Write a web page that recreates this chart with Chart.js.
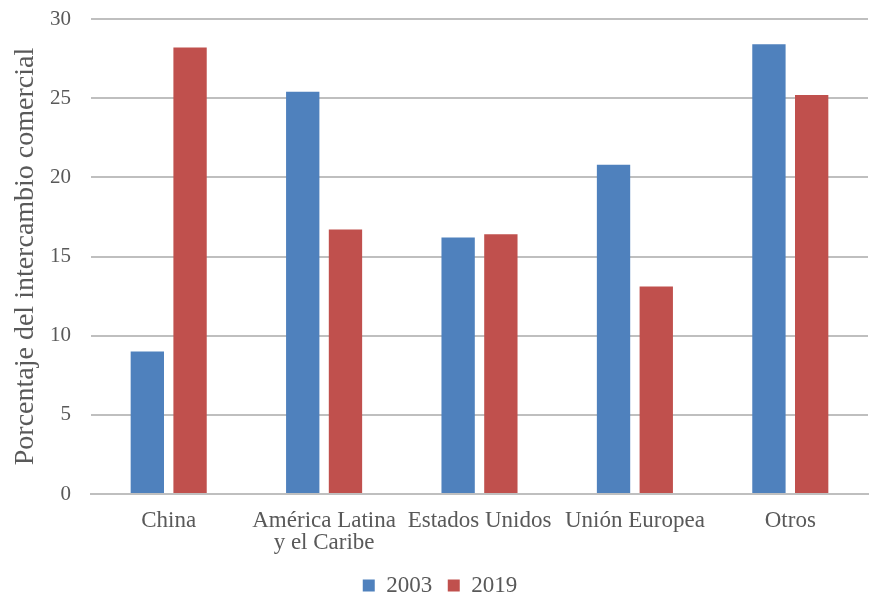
<!DOCTYPE html>
<html>
<head>
<meta charset="utf-8">
<script src="https://cdn.jsdelivr.net/npm/chart.js@4"></script>
<style>
  html, body { margin: 0; padding: 0; background: #fff; }
  #wrap { width: 869px; height: 599px; }
</style>
</head>
<body>
<div id="wrap"><canvas id="chart" width="869" height="599"></canvas></div>
<script>
const categories = ["China", ["América Latina", "y el Caribe"], "Estados Unidos", "Unión Europea", "Otros"];
const values2003 = [9.0, 25.4, 16.2, 20.8, 28.4];
const values2019 = [28.2, 16.7, 16.4, 13.1, 25.2];
const seriesNames = ["2003", "2019"];

const fontFamily = "'Liberation Serif', 'DejaVu Serif', serif";
const textColor = "#595959";

Chart.defaults.font.family = fontFamily;
Chart.defaults.color = textColor;

const ctx = document.getElementById("chart").getContext("2d");
new Chart(ctx, {
    type: "bar",
    data: {
        labels: categories,
        datasets: [
            { label: seriesNames[0], data: values2003, backgroundColor: "#4F81BD" },
            { label: seriesNames[1], data: values2019, backgroundColor: "#C0504D" }
        ]
    },
    options: {
        responsive: false,
        animation: false,
        layout: { padding: { top: 19, right: 1, left: 12, bottom: -8 } },
        datasets: { bar: { categoryPercentage: 0.55, barPercentage: 0.78 } },
        plugins: {
            tooltip: { enabled: false },
            legend: {
                position: "bottom",
                labels: {
                    color: textColor,
                    font: { family: fontFamily, size: 23 },
                    boxWidth: 12,
                    boxHeight: 12,
                    padding: 4,
                    // a bit more room between the two legend entries
                    generateLabels: (chart) => Chart.defaults.plugins.legend.labels.generateLabels(chart)
                        .map((item, i) => ({ ...item, text: i === 0 ? item.text + "  " : item.text }))
                }
            }
        },
        scales: {
            x: {
                grid: { display: false, drawTicks: false },
                border: { color: "#BFBFBF", width: 2 },
                ticks: {
                    color: textColor,
                    font: { family: fontFamily, size: 23, lineHeight: "22px" },
                    maxRotation: 0,
                    autoSkip: false,
                    padding: 16
                }
            },
            y: {
                min: 0,
                max: 30,
                ticks: {
                    stepSize: 5,
                    color: textColor,
                    font: { family: fontFamily, size: 21 },
                    padding: 2
                },
                grid: { color: "#BFBFBF", lineWidth: 2, drawTicks: true, tickLength: 18, tickColor: "transparent" },
                border: { display: false },
                title: {
                    display: true,
                    text: "Porcentaje del intercambio comercial",
                    color: textColor,
                    font: { family: fontFamily, size: 28, lineHeight: 1 },
                    padding: { top: 0, bottom: 8 }
                }
            }
        }
    }
});
</script>
</body>
</html>
